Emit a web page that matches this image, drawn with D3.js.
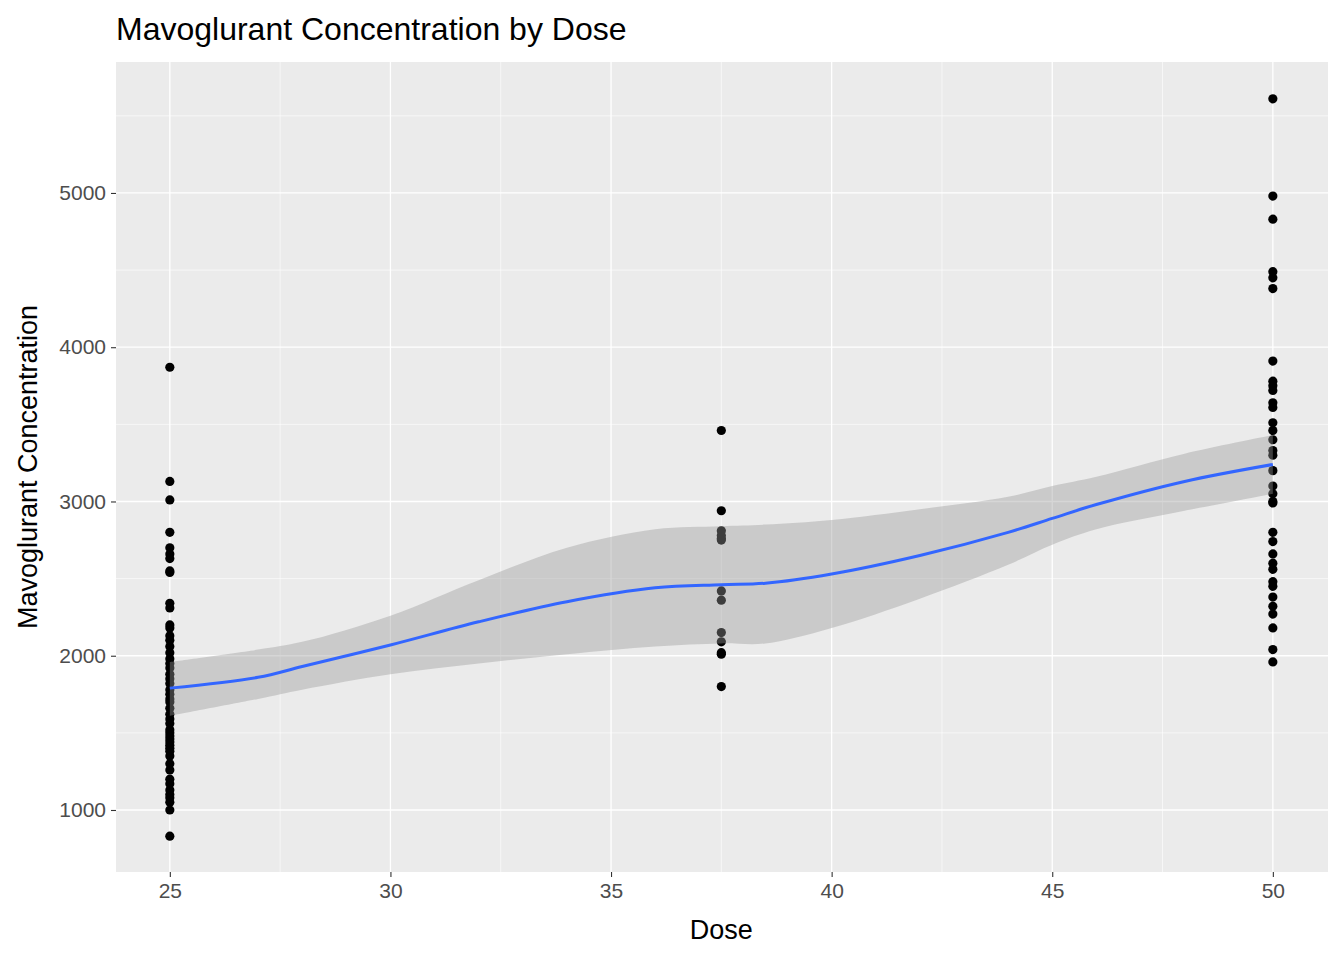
<!DOCTYPE html>
<html lang="en">
<head>
<meta charset="UTF-8">
<title>Mavoglurant</title>
<script src="https://d3js.org/d3.v7.min.js"></script>
<style>
  body { margin: 0; background: white; }
  text { font-family: "Liberation Sans", Arial, sans-serif; }
</style>
</head>
<body>
<svg id="canvas" width="1344" height="960"></svg>
<script>
// observed concentrations per dose
const dose25 = [3870, 3130, 3010, 2800, 2700, 2660, 2630, 2550, 2540, 2340, 2310, 2200, 2180, 2130, 2100, 2060, 2020, 1980, 1950, 1920, 1880, 1850, 1820, 1780, 1750, 1720, 1700, 1660, 1620, 1590, 1560, 1520, 1500, 1480, 1460, 1440, 1420, 1400, 1380, 1350, 1300, 1260, 1200, 1170, 1130, 1100, 1080, 1050, 1000, 830];
const dose375 = [3460, 2940, 2810, 2780, 2760, 2750, 2420, 2360, 2150, 2090, 2020, 2010, 1800];
const dose50 = [5610, 4980, 4830, 4490, 4450, 4380, 3910, 3780, 3750, 3720, 3640, 3610, 3510, 3460, 3400, 3330, 3300, 3200, 3100, 3050, 3000, 2990, 2800, 2740, 2660, 2600, 2560, 2480, 2450, 2380, 2320, 2270, 2180, 2040, 1960];

// loess fit and confidence band
const smoothX = [25, 27, 28, 30, 32, 34, 36, 37.5, 38.5, 40, 42, 44, 45, 46, 48, 50];
const smoothY = [1790, 1860, 1930, 2070, 2220, 2350, 2440, 2460, 2470, 2530, 2650, 2800, 2890, 2980, 3130, 3240];
const smoothLo = [1610, 1720, 1780, 1880, 1950, 2010, 2060, 2080, 2080, 2180, 2370, 2590, 2720, 2820, 2940, 3050];
const smoothHi = [1960, 2040, 2090, 2260, 2490, 2700, 2820, 2840, 2850, 2880, 2950, 3030, 3100, 3160, 3310, 3430];

const xTicks = [25, 30, 35, 40, 45, 50];
const yTicks = [1000, 2000, 3000, 4000, 5000];

const svg = d3.select('#canvas');
const m = {left: 116, right: 16, top: 62, bottom: 88};
const W = 1344, H = 960;

const x = d3.scaleLinear().domain([23.78, 51.25]).range([m.left, W - m.right]);
const y = d3.scaleLinear().domain([598, 5849]).range([H - m.bottom, m.top]);

svg.append('rect')
    .attr('x', m.left).attr('y', m.top)
    .attr('width', W - m.left - m.right).attr('height', H - m.top - m.bottom)
    .attr('fill', '#ebebeb');

// minor grid
const xMinor = d3.range(27.5, 51, 5);
const yMinor = d3.range(1500, 5600, 1000);
svg.selectAll('.xm').data(xMinor).enter().append('line')
    .attr('x1', d => x(d)).attr('x2', d => x(d))
    .attr('y1', m.top).attr('y2', H - m.bottom)
    .attr('stroke', 'white').attr('stroke-width', 0.6);
svg.selectAll('.ym').data(yMinor).enter().append('line')
    .attr('x1', m.left).attr('x2', W - m.right)
    .attr('y1', d => y(d)).attr('y2', d => y(d))
    .attr('stroke', 'white').attr('stroke-width', 0.6);
// major grid
svg.selectAll('.xg').data(xTicks).enter().append('line')
    .attr('x1', d => x(d)).attr('x2', d => x(d))
    .attr('y1', m.top).attr('y2', H - m.bottom)
    .attr('stroke', 'white').attr('stroke-width', 1.3);
svg.selectAll('.yg').data(yTicks).enter().append('line')
    .attr('x1', m.left).attr('x2', W - m.right)
    .attr('y1', d => y(d)).attr('y2', d => y(d))
    .attr('stroke', 'white').attr('stroke-width', 1.3);

// points
const pts = [];
dose25.forEach(v => pts.push([25, v]));
dose375.forEach(v => pts.push([37.5, v]));
dose50.forEach(v => pts.push([50, v]));
svg.selectAll('.pt').data(pts).enter().append('circle')
    .attr('cx', d => x(d[0])).attr('cy', d => y(d[1]))
    .attr('r', 4.6).attr('fill', 'black');

// ribbon + line
const band = smoothX.map((d, i) => ({x: d, lo: smoothLo[i], hi: smoothHi[i], y: smoothY[i]}));
svg.append('path').datum(band)
    .attr('d', d3.area().x(d => x(d.x)).y0(d => y(d.lo)).y1(d => y(d.hi)).curve(d3.curveCatmullRom))
    .attr('fill', '#999999').attr('fill-opacity', 0.4);
svg.append('path').datum(band)
    .attr('d', d3.line().x(d => x(d.x)).y(d => y(d.y)).curve(d3.curveCatmullRom))
    .attr('fill', 'none').attr('stroke', '#3366ff').attr('stroke-width', 3);

// axes
const xAxis = svg.append('g').attr('transform', `translate(0,${H - m.bottom})`)
    .call(d3.axisBottom(x).tickValues(xTicks).tickSize(5).tickPadding(6));
const yAxis = svg.append('g').attr('transform', `translate(${m.left},0)`)
    .call(d3.axisLeft(y).tickValues(yTicks).tickSize(5).tickPadding(5).tickFormat(d3.format('d')));
[xAxis, yAxis].forEach(a => {
    a.select('.domain').remove();
    a.selectAll('line').attr('stroke', '#333333').attr('stroke-width', 1.1);
    a.selectAll('text').attr('fill', '#4d4d4d').style('font-size', '21px');
});

svg.append('text').attr('x', x(37.5)).attr('y', 939)
    .attr('text-anchor', 'middle').style('font-size', '27px').text('Dose');
svg.append('text').attr('transform', `translate(37,${(m.top + H - m.bottom) / 2}) rotate(-90)`)
    .attr('text-anchor', 'middle').style('font-size', '27px').text('Mavoglurant Concentration');
svg.append('text').attr('x', 116).attr('y', 40)
    .style('font-size', '32px').text('Mavoglurant Concentration by Dose');
</script>
</body>
</html>
